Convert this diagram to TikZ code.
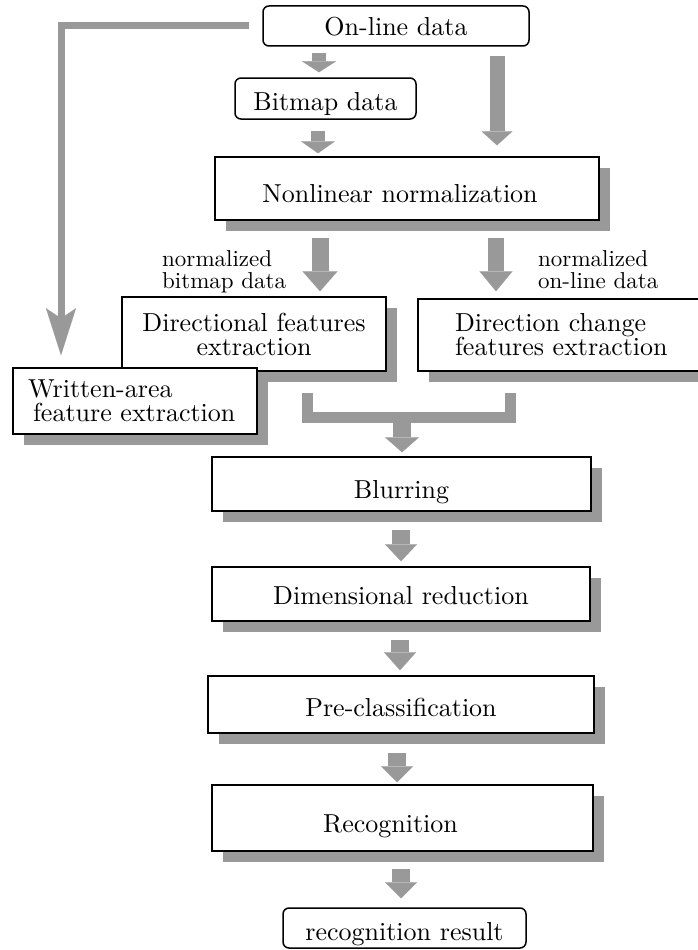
\documentclass[tikz,border=0pt]{standalone}
\usepackage{fontspec}
\setmainfont{lmroman10-regular.otf}
\usetikzlibrary{arrows.meta,shadows,calc}
\definecolor{flowgray}{RGB}{153,153,153}
\tikzset{
  boxfont/.style={font=\fontsize{26}{24}\selectfont},
  procbox/.style={draw=black, line width=1.5pt, fill=white, inner sep=0pt, boxfont,
    drop shadow={shadow xshift=11pt, shadow yshift=-11pt, fill=flowgray, opacity=1}},
  databox/.style={draw=black, line width=1.5pt, fill=white, rounded corners=6pt,
    inner sep=0pt, boxfont},
  notetext/.style={font=\fontsize{23}{22}\selectfont, inner sep=0pt, align=left},
  garrow/.style={draw=flowgray, line width=17pt, line cap=butt,
    -{Triangle[width=34pt,length=16pt,line width=0.01pt]}},
  longarrow/.style={draw=flowgray, line width=7pt, line join=miter, line cap=butt,
    -{Stealth[width=30pt,length=47pt,inset=10pt,line width=0.01pt]}},
  mergebar/.style={draw=flowgray, line width=11pt, line join=miter, line cap=butt},
}
\begin{document}
\begin{tikzpicture}[x=1pt,y=-1pt]
  \clip (0,0) rectangle (698,950);
  \fill[white] (0,0) rectangle (698,950);

  % input data
  \node[databox, minimum width=266pt, minimum height=40pt, text height=20pt, text depth=0pt]
    (online) at (396,26) {On-line data};
  \node[databox, minimum width=181pt, minimum height=41pt, text height=23pt, text depth=0pt]
    (bitmap) at (325.5,98.5) {Bitmap data};

  % normalization
  \node[procbox, minimum width=384pt, minimum height=63pt, text height=27pt, text depth=0pt]
    (norm) at (407,188.5) {\hspace*{-14pt}Nonlinear normalization};

  % feature extraction
  \node[procbox, minimum width=264pt, minimum height=74pt, align=center]
    (dirfeat) at (254,334) {Directional features\\extraction};
  \node[procbox, minimum width=300pt, minimum height=72pt, text width=226pt, align=left]
    (dirchg) at (568,335) {Direction change\\features extraction};
  \node[procbox, minimum width=244pt, minimum height=66pt, text width=214pt, align=left]
    (written) at (135,401) {Written-area\\\hspace*{5pt}feature extraction};

  \node[notetext, anchor=north west] (lblbmp) at (162,250) {normalized\\bitmap data};
  \node[notetext, anchor=north west] (lblonl) at (538,250) {normalized\\on-line data};

  % classification chain
  \node[procbox, minimum width=379pt, minimum height=54pt, text height=28pt, text depth=0pt]
    (blur) at (401.5,484) {Blurring};
  \node[procbox, minimum width=378pt, minimum height=54pt, text height=20pt, text depth=0pt]
    (dimred) at (401,594) {Dimensional reduction};
  \node[procbox, minimum width=386pt, minimum height=57pt, text height=23pt, text depth=0pt]
    (precls) at (401,704.5) {Pre-classification};
  \node[procbox, minimum width=381pt, minimum height=66pt, text height=28pt, text depth=0pt]
    (recog) at (402.5,818) {\hspace*{-24pt}Recognition};
  \node[databox, minimum width=243pt, minimum height=40pt, text height=24pt, text depth=0pt]
    (result) at (404.5,928) {recognition result};

  % arrow columns
  \coordinate (c1) at (319,0);
  \coordinate (c2) at (318,0);
  \coordinate (c3) at (497,0);
  \coordinate (c4) at (320,0);
  \coordinate (c5) at (496,0);
  \coordinate (uL) at (307.5,417);
  \coordinate (uR) at (510,417);
  \coordinate (um) at (402,417);
  \coordinate (c7) at (401,0);
  \coordinate (c8) at (400,0);
  \coordinate (c9) at (397,0);
  \coordinate (c10) at (401,0);
  \coordinate (lc) at (61,0);

  % connectors
  \draw[garrow, line width=14pt, -{Triangle[width=34pt,length=11pt,line width=0.01pt]},
        shorten <=6pt, shorten >=5pt]
    (online.south -| c1) -- (bitmap.north -| c1);
  \draw[garrow, line width=14pt, -{Triangle[width=34pt,length=12pt,line width=0.01pt]},
        shorten <=11pt, shorten >=3pt]
    (bitmap.south -| c2) -- (norm.north -| c2);
  \draw[garrow, line width=15pt, -{Triangle[width=31pt,length=14pt,line width=0.01pt]},
        shorten <=9pt, shorten >=11pt]
    (online.south -| c3) -- (norm.north -| c3);
  \draw[garrow, -{Triangle[width=35pt,length=20pt,line width=0.01pt]},
        shorten <=17pt, shorten >=5pt]
    (norm.south -| c4) -- (dirfeat.north -| c4);
  \draw[garrow, line width=16pt, -{Triangle[width=33pt,length=20pt,line width=0.01pt]},
        shorten <=17pt, shorten >=7pt]
    (norm.south -| c5) -- (dirchg.north -| c5);

  \draw[longarrow]
    ([xshift=-13pt]online.west) -- (online.west -| lc) -- ([yshift=12pt]written.north -| lc);

  \draw[mergebar]
    ($(dirfeat.south -| uL)+(0,21)$) -- (uL) -- (uR) -- ($(dirchg.south -| uR)+(0,21)$);
  \draw[garrow, line width=18pt, -{Triangle[width=34pt,length=15pt,line width=0.01pt]},
        shorten >=4pt]
    (um) -- (blur.north -| um);

  \draw[garrow, line width=18pt, -{Triangle[width=32pt,length=17pt,line width=0.01pt]},
        shorten <=18pt, shorten >=5pt]
    (blur.south -| c7) -- (dimred.north -| c7);
  \draw[garrow, line width=18pt, -{Triangle[width=32pt,length=18pt,line width=0.01pt]},
        shorten <=18pt, shorten >=5pt]
    (dimred.south -| c8) -- (precls.north -| c8);
  \draw[garrow, line width=18pt, -{Triangle[width=32pt,length=16pt,line width=0.01pt]},
        shorten <=19pt, shorten >=2pt]
    (precls.south -| c9) -- (recog.north -| c9);
  \draw[garrow, line width=18pt, -{Triangle[width=32pt,length=16pt,line width=0.01pt]},
        shorten <=17pt, shorten >=9pt]
    (recog.south -| c10) -- (result.north -| c10);
\end{tikzpicture}
\end{document}
